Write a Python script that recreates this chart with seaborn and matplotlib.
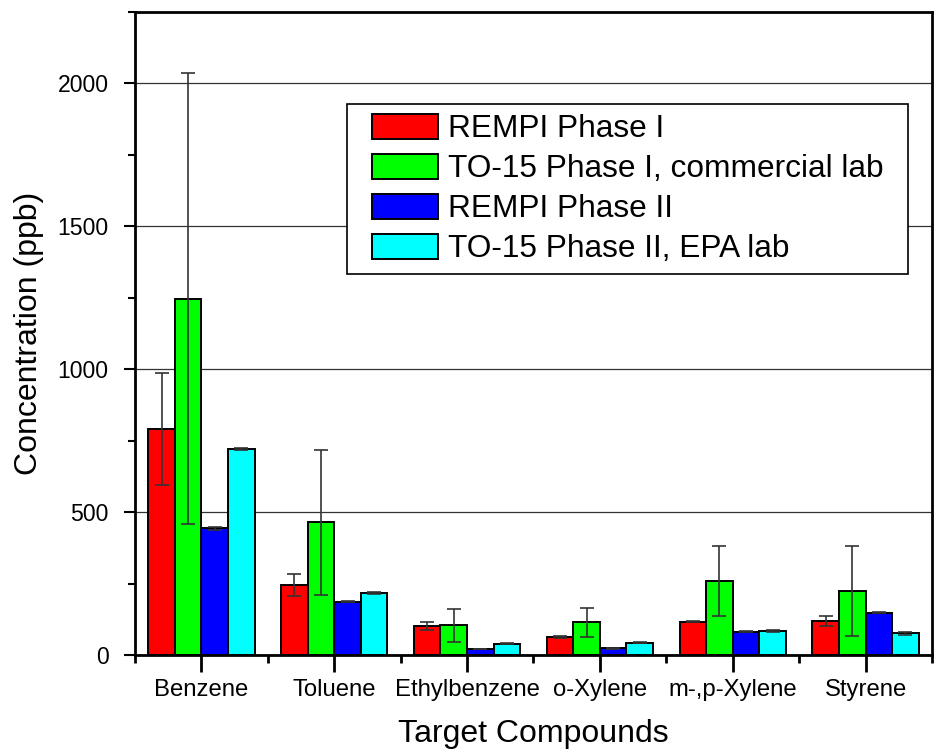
import numpy as np
import pandas as pd
import matplotlib
matplotlib.use("Agg")
import matplotlib.pyplot as plt
from matplotlib.ticker import MultipleLocator, FixedLocator
from matplotlib.patches import Rectangle
import seaborn as sns

compounds = ["Benzene", "Toluene", "Ethylbenzene", "o-Xylene", "m-,p-Xylene", "Styrene"]
series = ["REMPI Phase I", "TO-15 Phase I, commercial lab", "REMPI Phase II", "TO-15 Phase II, EPA lab"]
rempi1 = [790, 245, 101, 64, 116, 120]
rempi1_err = [195, 38, 14, 3, 2, 18]
to15_1 = [1246, 465, 104, 114, 259, 224]
to15_1_err = [789, 254, 57, 52, 121, 156]
rempi2 = [443, 186, 22, 23, 82, 148]
rempi2_err = [4, 2, 0, 1, 1, 2]
to15_2 = [721, 217, 40, 43, 84, 76]
to15_2_err = [3, 4, 1, 2, 2, 5]
colors = ["#ff0000", "#00ff00", "#0000ff", "#00ffff"]

vals = [rempi1, to15_1, rempi2, to15_2]
errs = [rempi1_err, to15_1_err, rempi2_err, to15_2_err]
rows = []
for s, v in zip(series, vals):
    for c, x in zip(compounds, v):
        rows.append({"Compound": c, "Series": s, "Value": x})
df = pd.DataFrame(rows)

sns.set_style("ticks")
plt.rcParams["font.family"] = ["Liberation Sans", "DejaVu Sans"]
plt.rcParams["text.color"] = "black"
plt.rcParams["axes.labelcolor"] = "black"
plt.rcParams["xtick.color"] = "black"
plt.rcParams["ytick.color"] = "black"

fig = plt.figure(figsize=(9.36, 7.5), dpi=100)
ax = fig.add_axes([0.1442, 0.1267, 0.8515, 0.8573])

sns.barplot(data=df, x="Compound", y="Value", hue="Series", hue_order=series,
            order=compounds, palette=colors, width=0.8, saturation=1,
            edgecolor="black", linewidth=1.4, errorbar=None, ax=ax, zorder=2)

for cont, e in zip(ax.containers, errs):
    xs = [p.get_x() + p.get_width() / 2 for p in cont.patches]
    ys = [p.get_height() for p in cont.patches]
    ax.errorbar(xs, ys, yerr=e, fmt="none", ecolor="#333333", elinewidth=1.2,
                capsize=5, capthick=1.2, zorder=3)

ax.set_ylim(0, 2250)
ax.set_xlim(-0.5, 5.5)
ax.yaxis.set_major_locator(FixedLocator([0, 500, 1000, 1500, 2000]))
ax.yaxis.set_minor_locator(MultipleLocator(250))
ax.xaxis.set_minor_locator(FixedLocator([-0.5, 0.5, 1.5, 2.5, 3.5, 4.5, 5.5]))
ax.yaxis.grid(True, which="major", color="#333333", linewidth=0.9, zorder=0)
ax.set_axisbelow(True)

for sp in ax.spines.values():
    sp.set_visible(True)
    sp.set_color("black")
    sp.set_linewidth(2)

ax.tick_params(axis="y", which="major", direction="out", length=8, width=1.5,
               labelsize=16.6, pad=11, right=False)
ax.tick_params(axis="y", which="minor", direction="out", length=5, width=1.5, right=False)
ax.tick_params(axis="x", which="major", direction="out", length=12, width=2,
               labelsize=17.2, pad=5, top=False)
ax.tick_params(axis="x", which="minor", direction="out", length=6, width=2, top=False)

ax.set_xlabel("Target Compounds", fontsize=23, labelpad=13)
ax.set_ylabel("Concentration (ppb)", fontsize=23, labelpad=10)

# legend without frame, then a box with wider horizontal padding
leg = ax.legend(loc="upper left", bbox_to_anchor=(0.297, 0.842), fontsize=22.8,
                frameon=False, handlelength=2.1, handleheight=0.85,
                labelspacing=0.3, handletextpad=0.3, borderpad=0.0,
                borderaxespad=0)
for h in leg.legend_handles:
    h.set_edgecolor("black")
    h.set_linewidth(1.4)
leg.set_zorder(6)

fig.canvas.draw()
bb = leg.get_window_extent()
padx, pady = 25, 10
x0, y0 = ax.transAxes.inverted().transform((bb.x0 - padx, bb.y0 - pady))
x1, y1 = ax.transAxes.inverted().transform((bb.x1 + padx, bb.y1 + pady))
ax.add_patch(Rectangle((x0, y0), x1 - x0, y1 - y0, transform=ax.transAxes,
                       facecolor="white", edgecolor="black", linewidth=1.2,
                       zorder=5, clip_on=False))

fig.savefig("out.png", dpi=100)
